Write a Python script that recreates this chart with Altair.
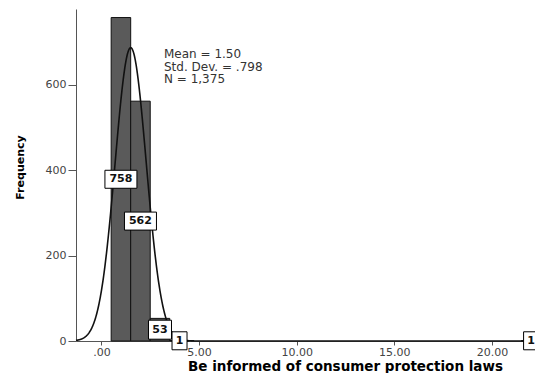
import altair as alt
import pandas as pd

# Data
values = [1, 2, 3, 4, 22]
counts = [758, 562, 53, 1, 1]
labels = ["758", "562", "53", "1", "1"]

mean = 1.50
sd = 0.798
n_total = 1375
bin_width = 1

x_ticks = [0, 5, 10, 15, 20]
y_ticks = [0, 200, 400, 600]

df = pd.DataFrame({"value": values, "count": counts, "label": labels})

xscale = alt.Scale(domain=[-1.3, 22.2], nice=False, zero=False)
yscale = alt.Scale(domain=[0, 778], nice=False)

FONT = "DejaVu Sans"

xaxis = alt.Axis(
    values=x_ticks, format=".2f", labelExpr="replace(datum.label, /^0/, '')",
    title="Be informed of consumer protection laws", titleFont=FONT, titleFontSize=13.5,
    titleFontWeight="bold", titleColor="#000", titleX=269, titleY=32, titleAlign="center",
    titleBaseline="bottom",
    labelFont=FONT, labelFontSize=11, labelColor="#444", tickColor="#555", tickSize=4,
    domainColor="#555", labelPadding=1, grid=False,
)
yaxis = alt.Axis(
    values=y_ticks, title="Frequency", titleFont=FONT, titleFontSize=11, titleFontWeight="bold",
    titleColor="#000", titleX=-56, titleY=158, titleAngle=-90, titleAlign="center",
    titleBaseline="middle",
    labelFont=FONT, labelFontSize=11, labelColor="#444", tickColor="#555", tickSize=8,
    domainColor="#555", labelPadding=2, grid=False,
)

base = alt.Chart(df)

bars = base.transform_calculate(
    x0=f"datum.value - {bin_width}/2", x1=f"datum.value + {bin_width}/2"
).mark_rect(fill="#5a5a5a", stroke="#111", strokeWidth=1).encode(
    x=alt.X("x0:Q", scale=xscale, axis=xaxis),
    x2="x1:Q",
    y=alt.Y("count:Q", scale=yscale, axis=yaxis),
    y2=alt.datum(0),
)

curve = alt.Chart(alt.sequence(-1.3, 22.21, 0.02, as_="x")).transform_calculate(
    y=f"{n_total}*{bin_width}/({sd}*sqrt(2*PI))*exp(-0.5*pow((datum.x-{mean})/{sd},2))"
).mark_line(color="#111", strokeWidth=1.6).encode(
    x=alt.X("x:Q", scale=xscale),
    y=alt.Y("y:Q", scale=yscale),
)

boxes = base.transform_calculate(
    half="datum.count/2",
    box="length(datum.label)==1 ? 'M-0.75,-0.9H0.75V0.9H-0.75Z' : (length(datum.label)==2 ? 'M-1.15,-0.95H1.15V0.95H-1.15Z' : 'M-1.6,-0.9H1.6V0.9H-1.6Z')",
).mark_point(filled=True, fill="white", stroke="black", strokeWidth=1, opacity=1, size=400).encode(
    x=alt.X("value:Q", scale=xscale),
    y=alt.Y("half:Q", scale=yscale),
    shape=alt.Shape("box:N", scale=None),
)

texts = base.transform_calculate(half="datum.count/2").mark_text(
    font=FONT, fontSize=11, fontWeight="bold", color="#111", baseline="middle", align="center"
).encode(
    x=alt.X("value:Q", scale=xscale),
    y=alt.Y("half:Q", scale=yscale),
    text="label:N",
)

stats = pd.DataFrame({"line": [f"Mean = {mean:.2f}", f"Std. Dev. = {str(sd)[1:]}", f"N = {n_total:,}"],
                      "row": [0, 1, 2]})
stat_text = alt.Chart(stats).transform_calculate(py="45 + datum.row*12.5").mark_text(
    font=FONT, fontSize=12, color="#333", align="left", baseline="middle"
).encode(
    x=alt.value(88),
    y=alt.Y("py:Q", scale=None),
    text="line:N",
)

chart = alt.layer(bars, curve, boxes, texts, stat_text).properties(
    width=459, height=332,
    autosize=alt.AutoSizeParams(type="none"),
    padding={"left": 68, "top": 1, "right": 0, "bottom": 32},
).configure_view(stroke=None)

chart.save("out.html", embed_options={"renderer": "svg", "actions": False})
